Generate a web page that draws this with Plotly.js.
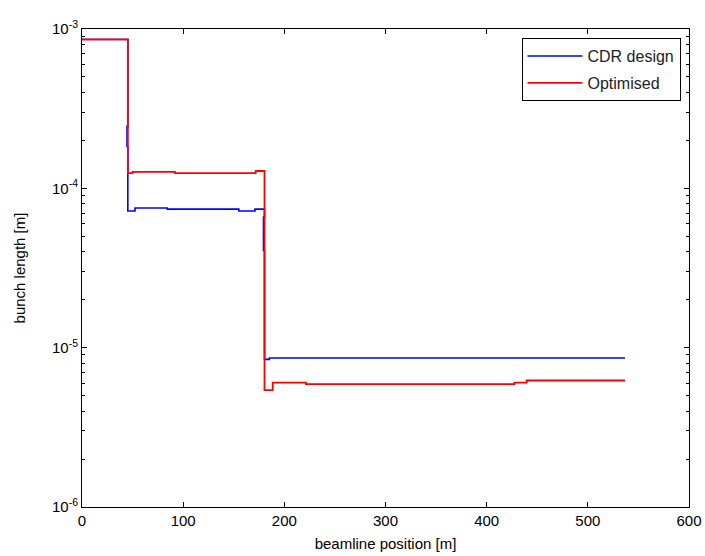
<!DOCTYPE html>
<html>
<head>
<meta charset="utf-8">
<script src="https://cdn.plot.ly/plotly-3.0.1.min.js"></script>
<style>html,body{margin:0;padding:0;background:#fff}#chart{width:705px;height:556px}</style>
</head>
<body>
<div id="chart"></div>
<script>
// Step breakpoints (hv steps): position [m], bunch length [m]
const cdrX = [0, 45.3, 44.5, 45.3, 52.4, 84.3, 155.0, 171.0, 180.4, 179.4, 180.4, 185.2, 536.7];
const cdrY = [8.6e-4, 2.45e-4, 1.83e-4, 7.2e-5, 7.52e-5, 7.4e-5, 7.2e-5, 7.4e-5, 6.6e-5, 4.07e-5, 8.44e-6, 8.61e-6, 8.61e-6];

const optX = [0, 45.3, 50.0, 91.9, 171.7, 180.4, 188.5, 221.4, 427.3, 439.5, 536.7];
const optY = [8.6e-4, 1.245e-4, 1.27e-4, 1.245e-4, 1.285e-4, 5.42e-6, 6.03e-6, 5.91e-6, 6.03e-6, 6.22e-6, 6.22e-6];

const seriesNames = ['CDR design', 'Optimised'];
const xTickVals = [0, 100, 200, 300, 400, 500, 600];
const yTickVals = [1e-6, 1e-5, 1e-4, 1e-3];
const yTickText = ['10<sup>-6</sup>', '10<sup>-5</sup>', '10<sup>-4</sup>', '10<sup>-3</sup>'];

const minorVals = [];
for (let e = -6; e < -3; e++) {
  for (let m = 2; m <= 9; m++) minorVals.push(m * Math.pow(10, e));
}

const font = {family: '"Liberation Sans Narrow", "Liberation Sans", Arial, sans-serif', size: 15, color: '#000'};

const traces = [
  {x: cdrX, y: cdrY, name: seriesNames[0], legendgroup: 'a', mode: 'lines', line: {shape: 'hv', color: '#0000ff', width: 1.6}},
  {x: optX, y: optY, name: seriesNames[1], legendgroup: 'b', mode: 'lines', line: {shape: 'hv', color: '#ff0000', width: 1.8}}
];

const layout = {
  width: 705, height: 556,
  margin: {l: 82, r: 16, t: 29, b: 49},
  paper_bgcolor: '#fff', plot_bgcolor: '#fff',
  font: font,
  showlegend: true,
  legend: {
    x: 0.986, xanchor: 'right', y: 0.981, yanchor: 'top',
    bordercolor: '#000', borderwidth: 1, bgcolor: '#fff',
    font: {family: font.family, size: 16, color: '#222'},
    traceorder: 'grouped', tracegroupgap: 3, itemwidth: 55
  },
  xaxis: {
    range: [0, 600], tickmode: 'array', tickvals: xTickVals,
    ticks: 'inside', ticklen: 5, tickcolor: '#000', tickwidth: 1,
    showline: true, linecolor: '#000', linewidth: 1, mirror: 'ticks',
    showgrid: false, zeroline: false,
    tickfont: font,
    title: {text: 'beamline position [m]', font: font, standoff: 10}
  },
  yaxis: {
    type: 'log', range: [-6, -3], tickmode: 'array', tickvals: yTickVals, ticktext: yTickText,
    ticks: 'inside', ticklen: 5, tickcolor: '#000', tickwidth: 1,
    showline: true, linecolor: '#000', linewidth: 1, mirror: 'ticks',
    showgrid: false, zeroline: false,
    tickfont: font,
    minor: {tickmode: 'array', tickvals: minorVals, ticks: 'inside', ticklen: 3, tickcolor: '#000', showgrid: false},
    title: {text: 'bunch length [m]', font: font, standoff: 22}
  }
};

Plotly.newPlot('chart', traces, layout, {displayModeBar: false, staticPlot: true});
</script>
</body>
</html>
